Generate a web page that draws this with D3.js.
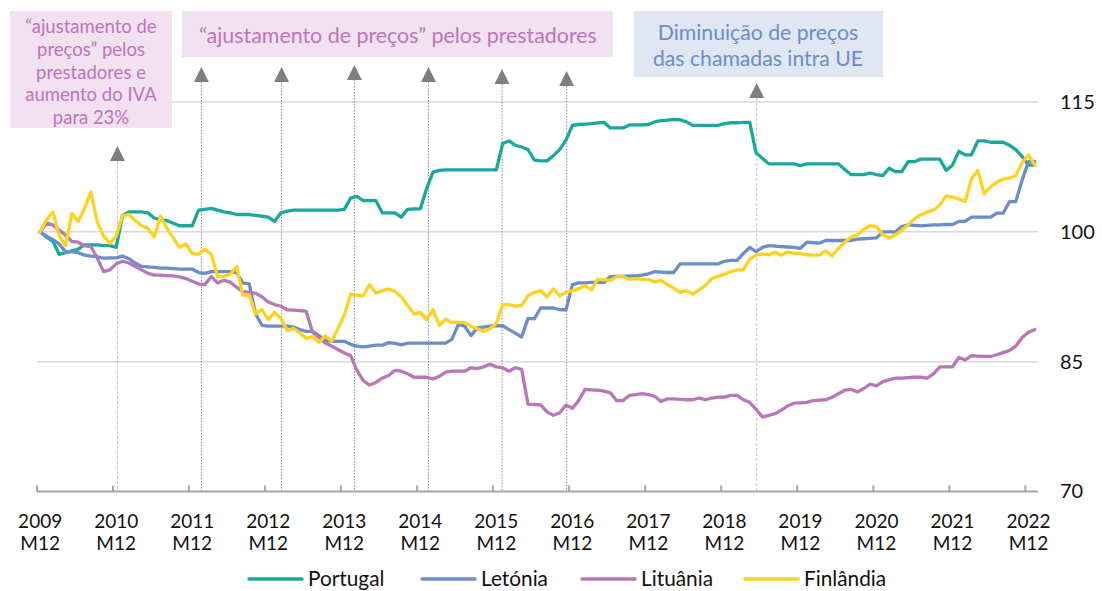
<!DOCTYPE html>
<html>
<head>
<meta charset="utf-8">
<script src="https://cdn.jsdelivr.net/npm/d3@7"></script>
<style>
  body { margin: 0; background: #fff; }
  svg { display: block; font-family: Lato, "Noto Sans", sans-serif; }
</style>
</head>
<body>
<svg id="chart" width="1102" height="591"></svg>
<script>
// monthly categories, 2009 M12 .. 2023 M01
const months = d3.range(158).map(function (i) {
  const t = 11 + i;
  return (2009 + Math.floor(t / 12)) + " M" + String(t % 12 + 1).padStart(2, "0");
});

const yTicks = [70, 85, 100, 115];

const portugal = [
  100.0, 99.4, 98.9, 97.4, 97.6, 97.8, 98.0, 98.5, 98.5, 98.5, 98.4, 98.4, 98.2, 101.9, 102.3, 102.3,
  102.3, 102.2, 101.6, 101.4, 101.3, 101.0, 100.7, 100.7, 100.7, 102.5, 102.6, 102.7, 102.5, 102.3, 102.2, 102.0,
  102.0, 102.0, 101.9, 101.8, 101.7, 101.2, 102.2, 102.4, 102.5, 102.5, 102.5, 102.5, 102.5, 102.5, 102.5, 102.5,
  102.6, 103.9, 104.1, 103.6, 103.6, 103.6, 102.2, 102.2, 102.2, 101.7, 102.6, 102.65, 102.65, 105.0, 106.9, 107.1,
  107.15, 107.15, 107.15, 107.15, 107.15, 107.15, 107.15, 107.15, 107.15, 110.2, 110.5, 110.0, 109.8, 109.5, 108.3, 108.2,
  108.2, 108.8, 109.5, 110.6, 112.3, 112.4, 112.45, 112.5, 112.6, 112.65, 112.0, 112.0, 112.0, 112.35, 112.35, 112.35,
  112.4, 112.7, 112.85, 112.9, 113.0, 112.95, 112.7, 112.3, 112.3, 112.3, 112.3, 112.3, 112.5, 112.6, 112.6, 112.65,
  112.65, 109.1, 108.5, 107.85, 107.85, 107.85, 107.85, 107.85, 107.65, 107.85, 107.85, 107.85, 107.85, 107.85, 107.85, 107.2,
  106.6, 106.6, 106.6, 106.8, 106.6, 106.5, 107.35, 106.95, 106.95, 108.1, 108.1, 108.4, 108.4, 108.4, 108.4, 107.1,
  107.7, 109.3, 108.9, 108.9, 110.5, 110.5, 110.35, 110.35, 110.35, 110.0, 109.5, 108.7, 107.7, 107.7
];

const letonia = [
  100.0, 99.5, 99.1, 98.6, 97.7, 97.7, 97.6, 97.3, 97.2, 97.15, 96.95, 97.0, 97.0, 97.2, 96.9, 96.4,
  96.0, 95.95, 95.9, 95.8, 95.8, 95.75, 95.7, 95.7, 95.7, 95.3, 95.2, 95.4, 95.4, 95.4, 95.4, 95.3,
  94.1, 94.0, 90.5, 89.2, 89.1, 89.1, 89.1, 89.1, 89.0, 88.7, 88.5, 88.5, 88.0, 87.5, 87.35, 87.35,
  87.35, 87.0, 86.8, 86.7, 86.8, 86.9, 86.9, 87.2, 87.1, 86.95, 87.15, 87.15, 87.15, 87.15, 87.15, 87.15,
  87.15, 87.6, 89.3, 89.1, 88.0, 88.9, 89.0, 89.1, 89.15, 89.15, 88.7, 88.3, 87.85, 90.0, 89.95, 91.2,
  91.2, 91.2, 91.0, 91.0, 93.9, 94.1, 94.1, 94.15, 94.15, 94.15, 94.85, 94.85, 94.85, 94.9, 94.9, 95.0,
  95.15, 95.4, 95.35, 95.3, 95.3, 96.3, 96.3, 96.3, 96.3, 96.3, 96.3, 96.3, 96.6, 96.7, 96.7, 97.5,
  98.2, 97.7, 98.2, 98.4, 98.35, 98.3, 98.25, 98.2, 98.1, 98.8, 98.75, 98.7, 99.0, 99.0, 99.0, 99.0,
  99.0, 99.15, 99.2, 99.25, 99.3, 100.0, 100.0, 100.0, 100.6, 100.8, 100.75, 100.7, 100.75, 100.8, 100.8, 100.85,
  100.85, 101.2, 101.2, 101.7, 101.7, 101.7, 101.7, 102.15, 102.15, 103.5, 103.5, 106.0, 108.1, 108.1
];

const lituania = [
  100.0, 101.0, 100.8, 100.2, 99.6, 98.9, 98.8, 98.4, 98.3, 97.0, 95.4, 95.6, 96.3, 96.6, 96.4, 96.0,
  95.6, 95.2, 95.0, 95.0, 94.95, 94.9, 94.8, 94.6, 94.3, 94.0, 93.9, 94.85, 94.1, 94.4, 94.2, 93.6,
  93.1, 93.0, 92.9, 92.5, 91.9, 91.6, 91.4, 91.0, 90.95, 90.9, 90.8, 88.4, 87.8, 87.15, 86.8, 86.4,
  86.0, 85.7, 84.0, 82.8, 82.3, 82.6, 83.1, 83.4, 84.0, 83.9, 83.6, 83.2, 83.2, 83.2, 83.0, 83.3,
  83.8, 83.9, 83.9, 83.9, 84.3, 84.2, 84.4, 84.7, 84.4, 84.3, 83.9, 84.3, 84.1, 80.1, 80.05, 80.0,
  79.2, 78.8, 79.1, 80.0, 79.6, 80.5, 81.8, 81.75, 81.7, 81.6, 81.4, 80.5, 80.5, 81.1, 81.2, 81.3,
  81.2, 81.0, 80.4, 80.7, 80.7, 80.65, 80.6, 80.6, 80.8, 80.6, 80.8, 80.9, 80.9, 81.1, 81.1, 80.6,
  80.3, 79.5, 78.6, 78.8, 79.0, 79.4, 79.9, 80.2, 80.25, 80.3, 80.5, 80.55, 80.6, 80.9, 81.3, 81.7,
  81.8, 81.5, 81.9, 82.4, 82.2, 82.7, 82.9, 83.1, 83.1, 83.15, 83.2, 83.2, 83.1, 83.6, 84.4, 84.4,
  84.4, 85.5, 85.2, 85.7, 85.65, 85.6, 85.6, 85.8, 86.05, 86.3, 86.8, 87.8, 88.4, 88.7
];

const finlandia = [
  100.0, 101.4, 102.3, 99.5, 98.4, 102.1, 101.2, 102.7, 104.6, 101.2, 99.5, 98.7, 99.5, 101.9, 102.0, 101.3,
  100.7, 100.4, 99.4, 101.8, 100.4, 99.3, 98.2, 98.6, 97.5, 97.4, 98.0, 97.4, 94.85, 94.85, 95.1, 96.0,
  92.7, 92.7, 90.5, 91.0, 89.85, 90.7, 90.0, 88.6, 88.85, 88.3, 87.7, 87.9, 87.2, 88.0, 87.35, 88.8,
  90.4, 92.8, 92.7, 92.6, 93.9, 92.9, 93.2, 93.4, 93.1, 92.5, 91.5, 90.5, 90.7, 89.85, 91.0, 89.2,
  89.9, 89.5, 89.55, 89.5, 89.1, 88.8, 88.5, 88.8, 89.4, 91.6, 91.6, 91.4, 91.5, 92.6, 93.0, 93.2,
  92.5, 93.4, 92.6, 93.0, 93.2, 93.4, 93.8, 93.3, 94.5, 94.45, 94.4, 94.8, 94.85, 94.5, 94.6, 94.5,
  94.5, 94.2, 94.4, 93.9, 93.5, 93.0, 93.2, 92.8, 93.3, 93.8, 94.6, 94.85, 95.1, 95.4, 95.6, 95.6,
  96.85, 97.3, 97.45, 97.35, 97.65, 97.3, 97.7, 97.5, 97.5, 97.35, 97.3, 97.3, 97.8, 97.2, 98.1, 98.8,
  99.4, 99.65, 100.3, 100.7, 100.6, 99.65, 99.3, 99.65, 100.2, 100.8, 101.5, 101.95, 102.3, 102.5, 103.1, 104.15,
  104.0, 103.8, 103.5, 106.1, 107.1, 104.4, 105.2, 105.7, 106.1, 106.2, 106.5, 108.0, 108.9, 107.7
];

const seriesNames = ["Portugal", "Letónia", "Lituânia", "Finlândia"];
const seriesValues = [portugal, letonia, lituania, finlandia];
const seriesColors = ["#1aa89c", "#6b8dc9", "#b877b7", "#ffd21f"];

// events (in month index units) marked by arrows
const eventMonths = [12.2, 25.45, 38.1, 49.6, 61.3, 72.9, 83.1, 113.1];
const eventKinds  = ["light", "dark", "dark", "dark", "dark", "dark", "dark", "light"];
const arrowTops   = [146, 67, 67, 65, 67, 69, 71, 83];

const boxTexts = [
  ["\u201cajustamento de", "pre\u00e7os\u201d pelos", "prestadores e", "aumento do IVA", "para 23%"],
  ["\u201cajustamento de pre\u00e7os\u201d pelos prestadores"],
  ["Diminui\u00e7\u00e3o de pre\u00e7os", "das chamadas intra UE"]
];

const svg = d3.select("#chart");

const x = d3.scaleLinear().domain([0, months.length]).range([37, 1038]);
const y = d3.scaleLinear().domain([70, 115]).range([491.5, 102]);

// gridlines
svg.append("g")
  .selectAll("line")
  .data(yTicks.filter(function (d) { return d > 70; }))
  .enter().append("line")
  .attr("x1", x(0)).attr("x2", x(months.length))
  .attr("y1", function (d) { return y(d); })
  .attr("y2", function (d) { return y(d); })
  .attr("stroke", "#d9d9d9")
  .attr("stroke-width", 1.5);

// right value labels
const yAxis = svg.append("g")
  .attr("transform", "translate(1057,0)")
  .call(d3.axisRight(y).tickValues(yTicks).tickSize(0).tickPadding(3));
yAxis.select(".domain").remove();
yAxis.selectAll("text")
  .attr("font-family", "Lato, 'Noto Sans', sans-serif")
  .attr("font-size", 20)
  .attr("fill", "#111");

// event lines and arrows
const ev = svg.append("g");
eventMonths.forEach(function (m, k) {
  const ex = x(m + 0.5);
  const top = arrowTops[k];
  const dark = eventKinds[k] === "dark";
  ev.append("line")
    .attr("x1", ex).attr("x2", ex)
    .attr("y1", top + 15).attr("y2", y(70))
    .attr("stroke", dark ? "#8c8c8c" : "#c4c4c4")
    .attr("stroke-width", 1)
    .attr("stroke-dasharray", dark ? "1.5,1.5" : "3,2");
  ev.append("path")
    .attr("d", "M" + ex + "," + top + " L" + (ex + 7.5) + "," + (top + 15) + " L" + (ex - 7.5) + "," + (top + 15) + " Z")
    .attr("fill", "#7f7f7f");
});

// x axis
svg.append("line")
  .attr("x1", x(0)).attr("x2", x(months.length))
  .attr("y1", y(70)).attr("y2", y(70))
  .attr("stroke", "#a6a6a6")
  .attr("stroke-width", 2);

const yearIdx = d3.range(0, months.length, 12);
svg.append("g").selectAll("line")
  .data(yearIdx)
  .enter().append("line")
  .attr("x1", function (d) { return x(d); })
  .attr("x2", function (d) { return x(d); })
  .attr("y1", y(70)).attr("y2", y(70) - 6)
  .attr("stroke", "#a6a6a6")
  .attr("stroke-width", 2);

const xl = svg.append("g").selectAll("text")
  .data(yearIdx)
  .enter().append("text")
  .attr("text-anchor", "middle")
  .attr("font-size", 19)
  .attr("fill", "#111")
  .attr("transform", function (d) { return "translate(" + x(d + 0.5) + ",0)"; });
xl.append("tspan").attr("x", 0).attr("y", 528)
  .text(function (d) { return months[d].split(" ")[0]; });
xl.append("tspan").attr("x", 0).attr("y", 550)
  .text(function (d) { return months[d].split(" ")[1]; });

// series lines
const line = d3.line()
  .x(function (d, i) { return x(i + 0.5); })
  .y(function (d) { return y(d); });

svg.append("g").selectAll("path")
  .data(seriesValues)
  .enter().append("path")
  .attr("d", line)
  .attr("fill", "none")
  .attr("stroke", function (d, i) { return seriesColors[i]; })
  .attr("stroke-width", 3.3)
  .attr("stroke-linejoin", "round")
  .attr("stroke-linecap", "round");

// annotation boxes
const boxes = [
  { x: 10, y: 11, w: 162, h: 117, fill: "#f1e1f1", color: "#c074bb", cx: 91, base: 33, step: 22.8, size: 18.5 },
  { x: 182, y: 11, w: 431, h: 46, fill: "#f1e1f1", color: "#c074bb", cx: 398, base: 42.5, step: 0, size: 21.4 },
  { x: 634, y: 11, w: 249, h: 66, fill: "#e0e6f2", color: "#6b8dc9", cx: 758, base: 39.5, step: 26, size: 21.2 }
];
boxes.forEach(function (b, k) {
  svg.append("rect")
    .attr("x", b.x).attr("y", b.y).attr("width", b.w).attr("height", b.h)
    .attr("fill", b.fill);
  const t = svg.append("text")
    .attr("text-anchor", "middle")
    .attr("font-size", b.size)
    .attr("fill", b.color);
  boxTexts[k].forEach(function (s, j) {
    t.append("tspan").attr("x", b.cx).attr("y", b.base + j * b.step).text(s);
  });
});

// legend
const legX = [249, 422, 582, 745];
const leg = svg.append("g").selectAll("g")
  .data(seriesNames)
  .enter().append("g")
  .attr("transform", function (d, i) { return "translate(" + legX[i] + ",579)"; });
leg.append("line")
  .attr("x1", 0).attr("x2", 53)
  .attr("stroke", function (d, i) { return seriesColors[i]; })
  .attr("stroke-width", 3.5)
  .attr("stroke-linecap", "round");
leg.append("text")
  .attr("x", 59).attr("y", 7)
  .attr("font-size", 20.8)
  .attr("fill", "#111")
  .text(function (d) { return d; });
</script>
</body>
</html>
